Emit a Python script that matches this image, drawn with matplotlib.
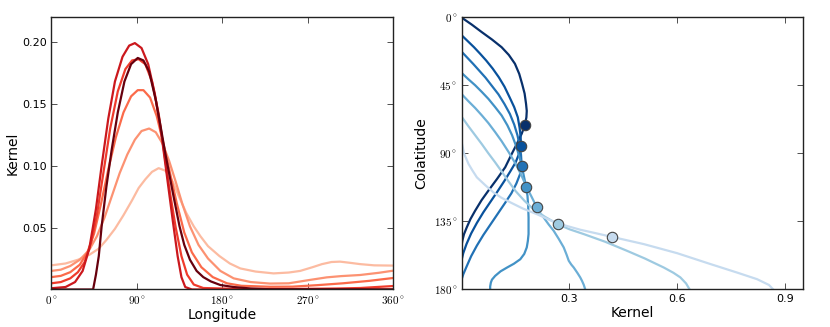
import matplotlib
matplotlib.use("Agg")
import matplotlib.pyplot as plt

plt.rcParams['mathtext.fontset'] = 'cm'

# ---------------- Left panel: kernel vs longitude ----------------
lon_ticks = [0, 90, 180, 270, 360]
lon_labels = [r'$0^\circ$', r'$90^\circ$', r'$180^\circ$', r'$270^\circ$', r'$360^\circ$']
kern_ticks = [0.05, 0.10, 0.15, 0.20]

red_colors = ['#fcbba1', '#fc9272', '#fb6a4a', '#ef3b2c', '#cb181d', '#67000d']

lon_a = [0, 15, 28, 40, 50, 58, 67, 76, 85, 92, 99, 106, 113, 120, 128, 135, 142, 150, 157, 165,
         177, 188, 199, 215, 234, 250, 262, 275, 285, 295, 304, 315, 325, 340, 360]
ker_a = [0.0195, 0.021, 0.024, 0.028, 0.033, 0.040, 0.049, 0.060, 0.072, 0.082, 0.089, 0.095, 0.098,
         0.096, 0.087, 0.074, 0.062, 0.051, 0.043, 0.035, 0.027, 0.021, 0.017, 0.0145, 0.013, 0.0137,
         0.015, 0.018, 0.0205, 0.0222, 0.0225, 0.0215, 0.0205, 0.0195, 0.0193]

lon_b = [0, 10, 20, 30, 40, 48, 56, 64, 72, 80, 88, 95, 103, 110, 117, 124, 131, 138, 146, 155,
         165, 178, 192, 210, 230, 250, 272, 290, 305, 325, 345, 360]
ker_b = [0.015, 0.016, 0.019, 0.024, 0.032, 0.043, 0.058, 0.076, 0.094, 0.109, 0.121, 0.128, 0.130,
         0.127, 0.118, 0.104, 0.087, 0.069, 0.051, 0.036, 0.025, 0.015, 0.009, 0.006, 0.0048, 0.005,
         0.0077, 0.0098, 0.0108, 0.0117, 0.0135, 0.0152]

lon_c = [0, 10, 20, 30, 38, 45, 52, 60, 68, 76, 84, 91, 97, 104, 111, 118, 125, 132, 140, 148,
         158, 170, 185, 200, 230, 254, 280, 307, 335, 360]
ker_c = [0.010, 0.011, 0.014, 0.020, 0.030, 0.045, 0.068, 0.097, 0.123, 0.143, 0.156, 0.161, 0.161,
         0.155, 0.140, 0.118, 0.094, 0.070, 0.046, 0.030, 0.018, 0.010, 0.005, 0.003, 0.0022, 0.0023,
         0.0035, 0.005, 0.007, 0.0093]

lon_d = [0, 10, 20, 28, 35, 42, 48, 55, 62, 70, 78, 85, 92, 99, 106, 113, 119, 125, 131, 137,
         143, 150, 160, 200, 250, 300, 325, 360]
ker_d = [0.005, 0.006, 0.009, 0.014, 0.022, 0.038, 0.060, 0.095, 0.130, 0.160, 0.178, 0.185, 0.186,
         0.182, 0.168, 0.142, 0.110, 0.078, 0.050, 0.027, 0.012, 0.004, 0.0012, 0.0004, 0.0004,
         0.0008, 0.0012, 0.0028]

lon_e = [0, 15, 25, 33, 40, 47, 53, 60, 67, 75, 82, 88, 95, 102, 109, 116, 122, 128, 133, 137,
         141, 148, 360]
ker_e = [0.001, 0.002, 0.006, 0.015, 0.033, 0.065, 0.100, 0.138, 0.168, 0.188, 0.197, 0.199, 0.195,
         0.182, 0.158, 0.125, 0.090, 0.055, 0.027, 0.010, 0.002, 0.0, 0.0]

lon_f = [0, 44, 47, 50, 53, 58, 63.6, 70, 77, 84, 91, 97, 103, 110, 115, 120, 128, 135, 140, 146,
         153, 160, 168, 178, 192, 210, 230, 360]
ker_f = [0.0, 0.0, 0.012, 0.027, 0.051, 0.083, 0.113, 0.143, 0.168, 0.182, 0.187, 0.185, 0.176,
         0.153, 0.132, 0.110, 0.078, 0.051, 0.036, 0.024, 0.015, 0.010, 0.0065, 0.0036, 0.002, 0.0008,
         0.0002, 0.0]

left_lons = [lon_a, lon_b, lon_c, lon_d, lon_e, lon_f]
left_kers = [ker_a, ker_b, ker_c, ker_d, ker_e, ker_f]

# ---------------- Right panel: kernel vs colatitude ----------------
colat_ticks = [0, 45, 90, 135, 180]
colat_labels = [r'$0^\circ$', r'$45^\circ$', r'$90^\circ$', r'$135^\circ$', r'$180^\circ$']
kx_ticks = [0.3, 0.6, 0.9]

blue_colors = ['#08306b', '#08519c', '#2171b5', '#4292c6', '#6baed6', '#9ecae1', '#c6dbef']

k1 = [0.0, 0.028, 0.0555, 0.084, 0.111, 0.131, 0.148, 0.160, 0.168, 0.175, 0.179, 0.181, 0.180,
      0.176, 0.167, 0.155, 0.140, 0.121, 0.098, 0.074, 0.055, 0.037, 0.024, 0.0137, 0.006, 0.0015, 0.0]
c1 = [0.4, 5.0, 9.9, 14.8, 19.9, 25.0, 30.8, 37.5, 44.1, 50.5, 57.3, 62.0, 66.2,
      71.2, 77.0, 83.0, 90.0, 99.2, 107.0, 114.7, 121.0, 128.0, 133.5, 139.0, 143.5, 147.8, 150.0]

k2 = [0.0, 0.017, 0.034, 0.051, 0.068, 0.086, 0.103, 0.119, 0.133, 0.146, 0.156, 0.161, 0.164,
      0.165, 0.160, 0.150, 0.135, 0.118, 0.100, 0.080, 0.060, 0.042, 0.026, 0.013, 0.004, 0.0]
c2 = [12.1, 16.0, 19.9, 24.2, 28.7, 34.0, 39.7, 46.0, 52.9, 59.5, 66.2, 73.0, 79.4,
      84.7, 90.0, 96.0, 102.0, 108.5, 115.0, 122.0, 129.0, 136.0, 143.0, 150.0, 156.0, 160.0]

k3 = [0.0, 0.016, 0.032, 0.049, 0.066, 0.084, 0.102, 0.119, 0.134, 0.146, 0.155, 0.161, 0.165,
      0.167, 0.162, 0.152, 0.138, 0.120, 0.100, 0.080, 0.060, 0.042, 0.026, 0.013, 0.004, 0.0]
c3 = [23.0, 27.0, 31.0, 35.5, 40.0, 45.5, 51.0, 57.5, 64.0, 71.0, 78.0, 84.5, 91.0,
      98.6, 104.0, 110.0, 116.5, 123.0, 130.0, 137.0, 144.0, 151.0, 158.0, 165.0, 170.0, 173.0]

k4 = [0.0, 0.018, 0.037, 0.056, 0.074, 0.093, 0.111, 0.127, 0.140, 0.151, 0.160, 0.167, 0.172,
      0.176, 0.179, 0.183, 0.185, 0.186, 0.186, 0.186, 0.184, 0.181, 0.174, 0.163, 0.145, 0.126,
      0.108, 0.093, 0.084, 0.081, 0.079, 0.079]
c4 = [37.0, 41.0, 45.0, 49.5, 54.0, 59.5, 65.0, 71.5, 78.0, 85.0, 92.0, 98.0, 104.0,
      108.5, 112.5, 118.0, 125.0, 132.4, 138.0, 143.4, 148.0, 152.2, 156.5, 160.0, 163.0, 165.5,
      168.0, 171.0, 173.5, 175.4, 178.0, 180.0]

k5 = [0.0, 0.018, 0.037, 0.056, 0.074, 0.093, 0.111, 0.130, 0.150, 0.166, 0.180, 0.195, 0.209,
      0.220, 0.228, 0.242, 0.256, 0.270, 0.284, 0.292, 0.298, 0.305, 0.312, 0.322, 0.330, 0.335,
      0.340, 0.344]
c5 = [51.0, 55.5, 60.0, 65.0, 70.0, 76.0, 82.0, 89.0, 97.0, 104.5, 112.0, 119.0, 125.7,
      130.0, 132.4, 137.0, 141.2, 146.5, 152.2, 157.0, 161.0, 163.5, 165.5, 169.0, 172.0, 174.3,
      177.0, 180.0]

k6 = [0.0, 0.018, 0.037, 0.056, 0.074, 0.093, 0.111, 0.130, 0.150, 0.175, 0.200, 0.232, 0.267,
      0.300, 0.340, 0.400, 0.460, 0.510, 0.563, 0.590, 0.609, 0.625, 0.635]
c6 = [66.0, 72.0, 78.0, 84.0, 90.0, 96.0, 102.0, 108.5, 115.0, 121.5, 127.0, 132.0, 136.8,
      140.2, 143.4, 148.5, 154.4, 159.5, 165.5, 169.0, 172.0, 176.0, 180.0]

k7 = [0.0, 0.006, 0.0186, 0.030, 0.042, 0.065, 0.088, 0.110, 0.135, 0.170, 0.209, 0.240, 0.267,
      0.330, 0.418, 0.507, 0.600, 0.693, 0.767, 0.823, 0.856, 0.868]
c7 = [83.0, 90.0, 97.0, 101.5, 105.9, 111.0, 115.8, 119.3, 122.4, 126.5, 130.2, 133.5, 136.3,
      140.5, 145.2, 150.0, 156.0, 163.2, 168.8, 173.2, 177.0, 180.0]

right_ks = [k1, k2, k3, k4, k5, k6, k7]
right_cs = [c1, c2, c3, c4, c5, c6, c7]

dot_k = [0.177, 0.166, 0.168, 0.179, 0.209, 0.267, 0.418]
dot_c = [71.3, 84.9, 98.6, 112.5, 125.7, 136.8, 145.2]

# ---------------- Figure ----------------
fig = plt.figure(figsize=(8.3, 3.27), dpi=100)
ax1 = fig.add_axes([0.0618, 0.1147, 0.412, 0.833])
ax2 = fig.add_axes([0.5564, 0.1147, 0.4107, 0.833])

for lo, ke, col in zip(left_lons, left_kers, red_colors):
    ax1.plot(lo, ke, color=col, lw=1.6, solid_joinstyle='round')
ax1.set_xlim(0, 360)
ax1.set_ylim(0, 0.22)
ax1.set_xticks(lon_ticks)
ax1.set_xticklabels(lon_labels)
ax1.set_yticks(kern_ticks)
ax1.set_yticklabels(['%.2f' % t for t in kern_ticks])
ax1.set_xlabel('Longitude', fontsize=10, labelpad=2)
ax1.set_ylabel('Kernel', fontsize=10, labelpad=2)

for ks, cs, col in zip(right_ks, right_cs, blue_colors):
    ax2.plot(ks, cs, color=col, lw=1.6, solid_joinstyle='round')
for kx, cy, col in zip(dot_k, dot_c, blue_colors):
    ax2.plot([kx], [cy], 'o', ms=7.5, mfc=col, mec='#444444', mew=0.8, zorder=5)
ax2.set_xlim(0, 0.95)
ax2.set_ylim(180, 0)
ax2.set_xticks(kx_ticks)
ax2.set_xticklabels(['%.1f' % t for t in kx_ticks])
ax2.set_yticks(colat_ticks)
ax2.set_yticklabels(colat_labels)
ax2.set_xlabel('Kernel', fontsize=10, labelpad=2)
ax2.set_ylabel('Colatitude', fontsize=10, labelpad=4)

for ax in (ax1, ax2):
    ax.tick_params(direction='in', top=True, right=True, length=4, width=0.6,
                   labelsize=8, colors='#333333', labelcolor='black', pad=3)
    for sp in ax.spines.values():
        sp.set_linewidth(1.0)
        sp.set_color('#222222')

fig.savefig('out.png', dpi=100)
